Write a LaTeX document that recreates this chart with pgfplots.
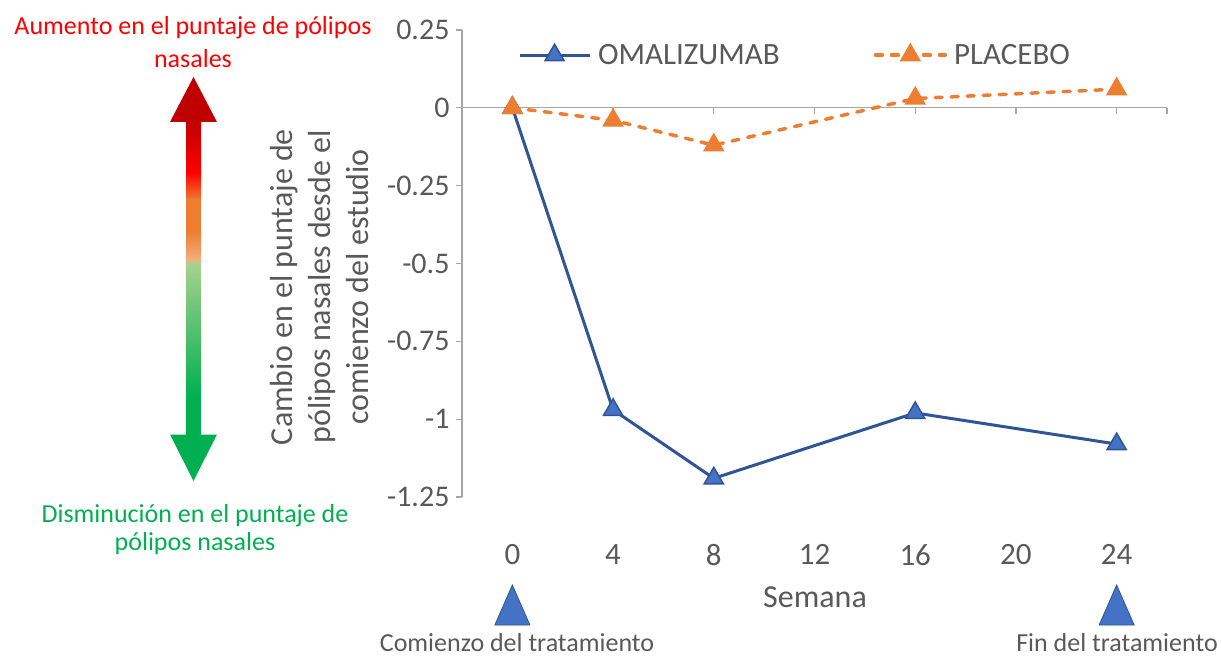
\documentclass[border=0pt]{standalone}
\usepackage{pgfplots}
\pgfplotsset{compat=1.18}
\usepackage{fontspec}
\setmainfont{Carlito}
\definecolor{txtgray}{HTML}{595959}
\definecolor{axgray}{HTML}{A6A6A6}
\definecolor{oblue}{HTML}{2F5597}
\definecolor{mblue}{HTML}{4472C4}
\definecolor{orng}{HTML}{ED7D31}
\definecolor{dred}{HTML}{C00000}
\definecolor{brred}{HTML}{FF0000}
\definecolor{lorng}{HTML}{F4B183}
\definecolor{lgreen}{HTML}{A9D18E}
\definecolor{dgreen}{HTML}{00B050}
\begin{document}
\begin{tikzpicture}[x=1pt,y=1pt]
\useasboundingbox (0,0) rectangle (1222,657);
% left arrow
\fill[dred] (193.5,580) -- (217,535) -- (170,535) -- cycle;
\shade[top color=dred, bottom color=brred] (186,484) rectangle (201,535.5);
\shade[top color=brred, bottom color=orng] (186,457) rectangle (201,484.5);
\fill[orng] (186,425) rectangle (201,457.5);
\shade[top color=orng, bottom color=lorng] (186,395) rectangle (201,425.5);
\shade[top color=lgreen, bottom color=dgreen] (186,260) rectangle (201,395);
\fill[dgreen] (186,222) rectangle (201,260.5);
\fill[dgreen] (193.5,176) -- (217,222.5) -- (170,222.5) -- cycle;
\node[anchor=base, text=brred, font=\fontsize{26}{31}\selectfont, inner sep=0pt] at (193,622) {Aumento en el puntaje de pólipos};
\node[anchor=base, text=brred, font=\fontsize{26}{31}\selectfont, inner sep=0pt] at (193,589) {nasales};
\node[anchor=base, text=dgreen, font=\fontsize{26}{31}\selectfont, inner sep=0pt] at (195,135) {Disminución en el puntaje de};
\node[anchor=base, text=dgreen, font=\fontsize{26}{31}\selectfont, inner sep=0pt] at (195,107) {pólipos nasales};
% y label
\node[rotate=90, align=center, text=txtgray, font=\fontsize{32}{38}\selectfont] at (320,370) {Cambio en el puntaje de\\pólipos nasales desde el\\comienzo del estudio};
% x label and bottom notes
\node[anchor=base, text=txtgray, font=\fontsize{32}{38}\selectfont, inner sep=0pt] at (815,50) {Semana};
\node[anchor=base, text=txtgray, font=\fontsize{26}{31}\selectfont, inner sep=0pt] at (517,6) {Comienzo del tratamiento};
\node[anchor=base, text=txtgray, font=\fontsize{26}{31}\selectfont, inner sep=0pt] at (1117,6) {Fin del tratamiento};
\begin{axis}[
  at={(462pt,160pt)}, anchor=south west,
  scale only axis, width=705pt, height=467pt,
  xmin=-2, xmax=26, ymin=-1.25, ymax=0.25,
  axis x line=bottom, axis y line=left,
  x axis line style={draw=none},
  y axis line style={-, draw=axgray, line width=1.2pt},
  xtick={0,4,8,12,16,20,24}, xticklabels={0,4,8,12,16,20,24},
  xtick style={draw=none},
  ytick={-1.25,-1,-0.75,-0.5,-0.25,0,0.25},
  yticklabels={-1.25,-1,-0.75,-0.5,-0.25,0,0.25},
  ytick style={draw=axgray, line width=1.2pt},
  tick align=outside, major tick length=6pt,
  yticklabel style={font=\fontsize{30}{36}\selectfont, text=txtgray, xshift=-3pt},
  xticklabel style={font=\fontsize{31}{36}\selectfont, text=txtgray, yshift=-38pt},
  clip=false,
  legend columns=2,
  legend style={draw=none, fill=none, at={(0.075,0.946)}, anchor=west,
    font=\fontsize{31}{36}\selectfont, text=txtgray,
    /tikz/every odd column/.append style={column sep=5pt},
    /tikz/every even column/.append style={column sep=92pt}},
  legend image code/.code={\draw[mark repeat=2,mark phase=2] plot coordinates {(0pt,0pt)(35pt,0pt)(70pt,0pt)};},
]
\draw[axgray, line width=1.2pt] (axis cs:-2,0) -- (axis cs:26,0);
\draw[axgray, line width=1.2pt] (axis cs:4,0) -- ++(0pt,-6pt);
\draw[axgray, line width=1.2pt] (axis cs:8,0) -- ++(0pt,-6pt);
\draw[axgray, line width=1.2pt] (axis cs:12,0) -- ++(0pt,-6pt);
\draw[axgray, line width=1.2pt] (axis cs:16,0) -- ++(0pt,-6pt);
\draw[axgray, line width=1.2pt] (axis cs:20,0) -- ++(0pt,-6pt);
\draw[axgray, line width=1.2pt] (axis cs:24,0) -- ++(0pt,-6pt);
\draw[axgray, line width=1.2pt] (axis cs:26,0) -- ++(0pt,-6pt);
\addplot[oblue, line width=3pt, mark=triangle*, mark size=11pt,
  mark options={fill=mblue, draw=oblue, line width=1.5pt}]
  coordinates {(0,0)(4,-0.97)(8,-1.19)(16,-0.98)(24,-1.08)};
\addlegendentry{OMALIZUMAB}
\addplot[orng, line width=3.5pt, line cap=round, dash pattern=on 7pt off 9pt, mark=triangle*, mark size=11pt,
  mark options={solid, fill=orng, line width=1.5pt}]
  coordinates {(0,0)(4,-0.04)(8,-0.12)(16,0.03)(24,0.06)};
\addlegendentry{PLACEBO}
% treatment markers
\draw[fill=mblue, draw=oblue, line width=0.8pt] (axis cs:0,-1.25) ++(-17.5pt,-128pt) -- ++(35pt,0pt) -- ++(-17.5pt,40pt) -- cycle;
\draw[fill=mblue, draw=oblue, line width=0.8pt] (axis cs:24,-1.25) ++(-17.5pt,-128pt) -- ++(35pt,0pt) -- ++(-17.5pt,40pt) -- cycle;
\end{axis}
\end{tikzpicture}
\end{document}
